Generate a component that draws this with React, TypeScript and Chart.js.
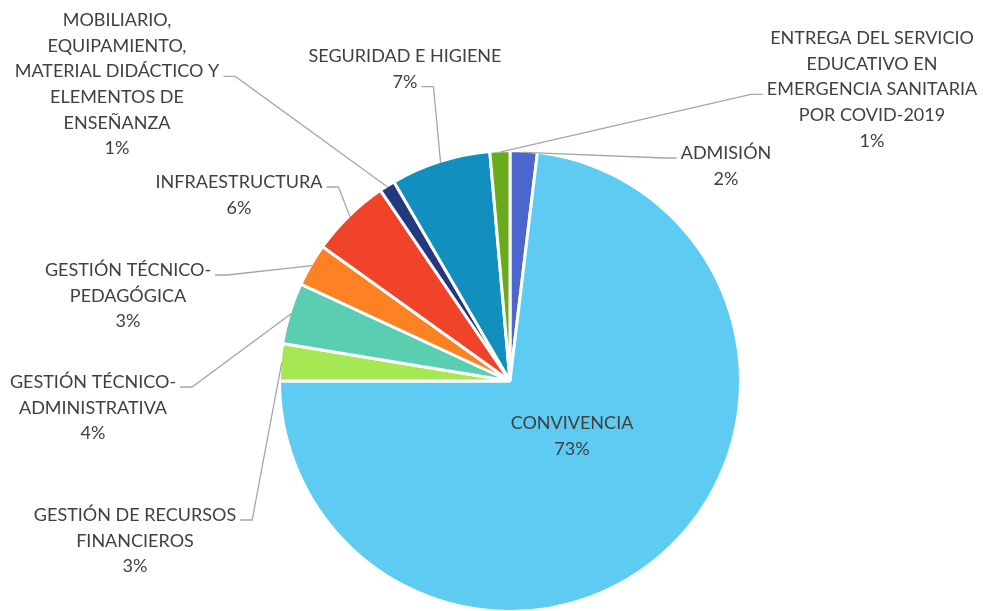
import React, { useEffect, useRef } from "react";
import { Chart, registerables } from "chart.js";

Chart.register(...registerables);

const categories = [
  "ADMISIÓN",
  "CONVIVENCIA",
  "GESTIÓN DE RECURSOS FINANCIEROS",
  "GESTIÓN TÉCNICO-ADMINISTRATIVA",
  "GESTIÓN TÉCNICO-PEDAGÓGICA",
  "INFRAESTRUCTURA",
  "MOBILIARIO, EQUIPAMIENTO, MATERIAL DIDÁCTICO Y ELEMENTOS DE ENSEÑANZA",
  "SEGURIDAD E HIGIENE",
  "ENTREGA DEL SERVICIO EDUCATIVO EN EMERGENCIA SANITARIA POR COVID-2019",
];

// wrapped label text as shown in the chart
const labelLines = [
  ["ADMISIÓN"],
  ["CONVIVENCIA"],
  ["GESTIÓN DE RECURSOS", "FINANCIEROS"],
  ["GESTIÓN TÉCNICO-", "ADMINISTRATIVA"],
  ["GESTIÓN TÉCNICO-", "PEDAGÓGICA"],
  ["INFRAESTRUCTURA"],
  ["MOBILIARIO,", "EQUIPAMIENTO,", "MATERIAL DIDÁCTICO Y", "ELEMENTOS DE", "ENSEÑANZA"],
  ["SEGURIDAD E HIGIENE"],
  ["ENTREGA DEL SERVICIO", "EDUCATIVO EN", "EMERGENCIA SANITARIA", "POR COVID-2019"],
];

const values = [1.9, 73.1, 2.6, 4.3, 3.0, 5.6, 1.1, 7.0, 1.4];

const colors = [
  "#4b66cf",
  "#5ecbf3",
  "#a5e853",
  "#5bcdb0",
  "#fe8124",
  "#f0432a",
  "#23387f",
  "#1190bf",
  "#6aab1e",
];

// label placement relative to pie centre: first-line centre (dx, dy),
// line the leader attaches to, and which side of the text it attaches.
const labelLayout = [
  { dx: 216, dy: -228, line: 0, side: "left", leader: true },
  { dx: 62, dy: 42, line: 0, side: "none", leader: false },
  { dx: -375, dy: 134, line: 0, side: "right", leader: true },
  { dx: -417, dy: 1, line: 0, side: "right", leader: true },
  { dx: -382, dy: -111, line: 0, side: "right", leader: true },
  { dx: -271, dy: -199, line: 0, side: "right", leader: true },
  { dx: -393, dy: -361, line: 2, side: "right", leader: true },
  { dx: -105, dy: -325, line: 1, side: "right", leader: true },
  { dx: 362, dy: -343, line: 2, side: "left", leader: true },
];

const FONT = "18px Lato, 'Open Sans', sans-serif";
const LINE_H = 25.7;

const labelPlugin = {
  id: "outLabels",
  afterDraw(chart: any) {
    const ctx = chart.ctx;
    const meta = chart.getDatasetMeta(0);
    const data = chart.data.datasets[0].data as number[];
    const total = data.reduce((a, b) => a + b, 0);
    ctx.save();
    ctx.font = FONT;
    ctx.textAlign = "center";
    ctx.textBaseline = "middle";
    meta.data.forEach((arc: any, i: number) => {
      const p = arc.getProps(["x", "y", "startAngle", "endAngle", "outerRadius"], true);
      const lay = labelLayout[i];
      const lines = [...labelLines[i], Math.round((data[i] / total) * 100) + "%"];
      const cx = p.x + lay.dx;
      const cy0 = p.y + lay.dy;
      ctx.fillStyle = "#404040";
      lines.forEach((t, k) => ctx.fillText(t, cx, cy0 + k * LINE_H));
      if (lay.leader) {
        const w = ctx.measureText(lines[lay.line]).width;
        const ly = cy0 + lay.line * LINE_H + 5;
        const dir = lay.side === "right" ? 1 : -1;
        const x0 = cx + dir * (w / 2 + 4);
        const x1 = x0 + dir * 12;
        const mid = (p.startAngle + p.endAngle) / 2;
        const r = p.outerRadius - 1.5;
        const ex = p.x + Math.cos(mid) * r;
        const ey = p.y + Math.sin(mid) * r;
        ctx.strokeStyle = "#a6a6a6";
        ctx.lineWidth = 1.3;
        ctx.beginPath();
        ctx.moveTo(x0, ly);
        ctx.lineTo(x1, ly);
        ctx.lineTo(ex, ey);
        ctx.stroke();
      }
    });
    ctx.restore();
  },
};

export default function App() {
  const ref = useRef<HTMLCanvasElement | null>(null);
  useEffect(() => {
    document.body.style.margin = "0";
    if (!ref.current) return;
    const chart = new Chart(ref.current, {
      type: "pie",
      data: {
        labels: categories,
        datasets: [
          {
            data: values,
            backgroundColor: colors,
            borderColor: "#ffffff",
            borderWidth: 3,
          },
        ],
      },
      options: {
        responsive: false,
        animation: false,
        devicePixelRatio: 1,
        radius: 230.5,
        layout: { padding: { left: 37, right: 0, top: 151, bottom: 0 } },
        plugins: {
          legend: { display: false },
          tooltip: { enabled: false },
        },
      } as any,
      plugins: [labelPlugin],
    });
    return () => chart.destroy();
  }, []);
  return (
    <div style={{ width: 983, height: 611, background: "#ffffff" }}>
      <canvas ref={ref} width={983} height={611} />
    </div>
  );
}
